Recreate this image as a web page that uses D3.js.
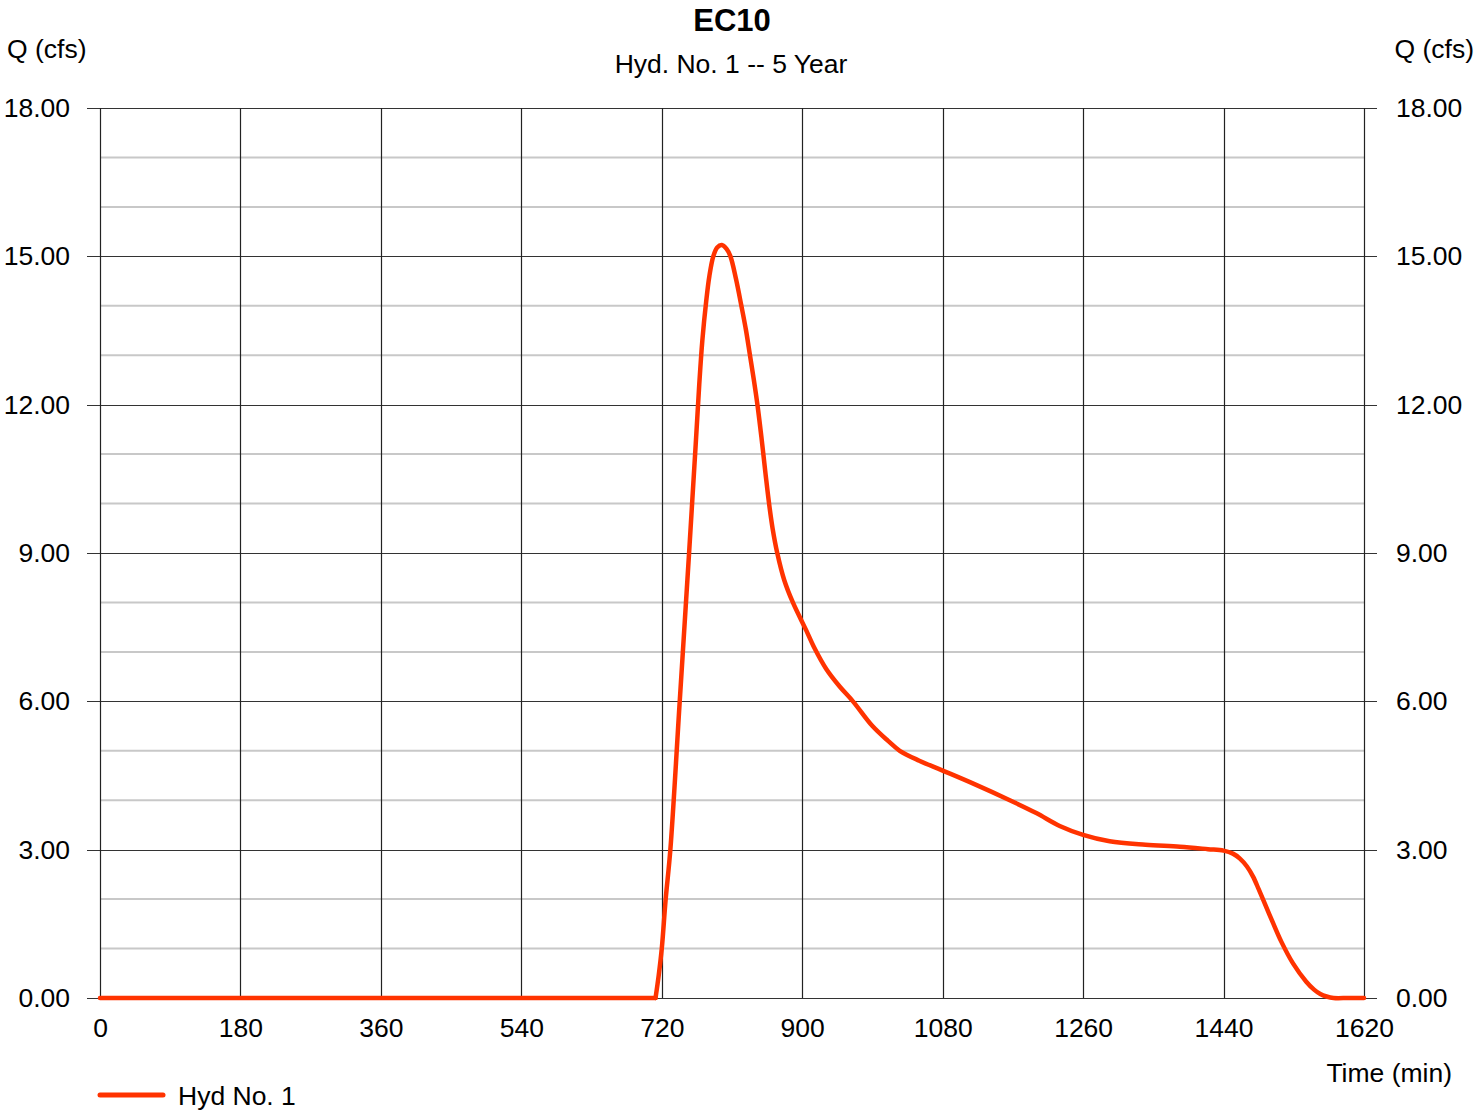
<!DOCTYPE html>
<html><head><meta charset="utf-8">
<script src="https://cdn.jsdelivr.net/npm/d3@7"></script>
<style>body{margin:0;background:#fff}svg{display:block}text{font-family:"Liberation Sans",Arial,sans-serif;fill:#000}</style>
</head><body>
<svg id="c" width="1475" height="1110"></svg>
<script>
const title = "EC10";
const subtitle = "Hyd. No. 1 -- 5 Year";
const yLabel = "Q (cfs)";
const xLabel = "Time (min)";
const seriesName = "Hyd No. 1";
const xTicks = [0,180,360,540,720,900,1080,1260,1440,1620];
const yTicks = [0,3,6,9,12,15,18];
const yMinor = [1,2,4,5,7,8,10,11,13,14,16,17];
const time = [0,600,700,712,716,720,725,731,743,755,763.5,768,772,777,781,786,791,797,803,808,815,822,828,833,838,843,848,853,857.5,862,868,877,888,905,915,931,948,965,990,1010,1025,1050,1080,1120,1166,1200,1230,1260,1294,1340,1384,1420,1440,1452,1461,1470,1478,1485,1491,1502,1514,1529,1546,1556,1564,1572,1581,1600,1620];
const flow = [0,0,0,0,0.45,1.0,2.0,3.0,6.0,9.0,11.2,12.4,13.3,14.1,14.6,15.0,15.18,15.23,15.15,15.0,14.55,14.0,13.5,13.0,12.5,11.95,11.3,10.6,10.0,9.5,9.0,8.45,8.0,7.44,7.1,6.65,6.3,6.0,5.5,5.2,5.0,4.8,4.6,4.33,4.0,3.74,3.48,3.3,3.17,3.1,3.06,3.01,2.98,2.92,2.82,2.66,2.45,2.2,1.98,1.57,1.14,0.7,0.33,0.17,0.08,0.03,0,0,0];

const svg = d3.select("#c");
const L=100,R=1364,T=108,B=998;
const x = d3.scaleLinear().domain([0,1620]).range([L,R]);
const y = d3.scaleLinear().domain([0,18]).range([B,T]);
const FS = 26.5;

// minor grid
svg.append("g").selectAll("line").data(yMinor).join("line")
  .attr("x1",L).attr("x2",R).attr("y1",d=>y(d)).attr("y2",d=>y(d))
  .attr("stroke","#c8c8c8").attr("stroke-width",2);
// major horizontal grid + ticks
svg.append("g").selectAll("line").data(yTicks).join("line")
  .attr("x1",L-13).attr("x2",R+13).attr("y1",d=>Math.round(y(d))+0.5).attr("y2",d=>Math.round(y(d))+0.5)
  .attr("stroke","#333").attr("stroke-width",1.2);
// vertical grid
svg.append("g").selectAll("line").data(xTicks).join("line")
  .attr("y1",T).attr("y2",B).attr("x1",d=>Math.round(x(d))+0.5).attr("x2",d=>Math.round(x(d))+0.5)
  .attr("stroke","#222").attr("stroke-width",1.2);

// axes labels via d3 axes (no lines)
const fmt = d3.format(".2f");
const la = svg.append("g").attr("transform",`translate(${L-30},0)`)
  .call(d3.axisLeft(y).tickValues(yTicks).tickFormat(fmt).tickSize(0).tickPadding(0));
const ra = svg.append("g").attr("transform",`translate(${R+32},0)`)
  .call(d3.axisRight(y).tickValues(yTicks).tickFormat(fmt).tickSize(0).tickPadding(0));
const ba = svg.append("g").attr("transform",`translate(0,${B+18})`)
  .call(d3.axisBottom(x).tickValues(xTicks).tickFormat(d3.format("d")).tickSize(0).tickPadding(0));
[la,ra,ba].forEach(g=>{g.select(".domain").remove();
  g.selectAll("text").attr("font-size",FS).attr("fill","#000").style("font-family","Liberation Sans, Arial, sans-serif");});
ba.selectAll("text").attr("dy","0.8em");

// line: flat lead-in drawn straight, hydrograph drawn smooth from its start
const pts = time.map((t,i)=>[t,flow[i]]);
const startIdx = 3; // the 712-min point where runoff begins
const flatLine = d3.line().x(d=>x(d[0])).y(d=>y(d[1]));
const smoothLine = d3.line().x(d=>x(d[0])).y(d=>y(d[1])).curve(d3.curveCatmullRom.alpha(0.5));
const g = svg.append("g").attr("fill","none").attr("stroke","#ff3300")
  .attr("stroke-width",4.5).attr("stroke-linejoin","round").attr("stroke-linecap","round");
g.append("path").attr("d",flatLine(pts.slice(0,startIdx+1)));
g.append("path").attr("d",smoothLine(pts.slice(startIdx)));

// titles
svg.append("text").attr("x",732).attr("y",31).attr("text-anchor","middle").attr("font-size",31).attr("font-weight","bold").text(title);
svg.append("text").attr("x",731).attr("y",73).attr("text-anchor","middle").attr("font-size",FS).text(subtitle);
svg.append("text").attr("x",7).attr("y",58).attr("font-size",FS).text(yLabel);
svg.append("text").attr("x",1474).attr("y",58).attr("text-anchor","end").attr("font-size",FS).text(yLabel);
svg.append("text").attr("x",1452).attr("y",1082).attr("text-anchor","end").attr("font-size",FS).text(xLabel);

// legend
svg.append("line").attr("x1",100).attr("x2",163).attr("y1",1095).attr("y2",1095)
  .attr("stroke","#ff3300").attr("stroke-width",5).attr("stroke-linecap","round");
svg.append("text").attr("x",178).attr("y",1105).attr("font-size",FS).text(seriesName);
</script>
</body></html>
